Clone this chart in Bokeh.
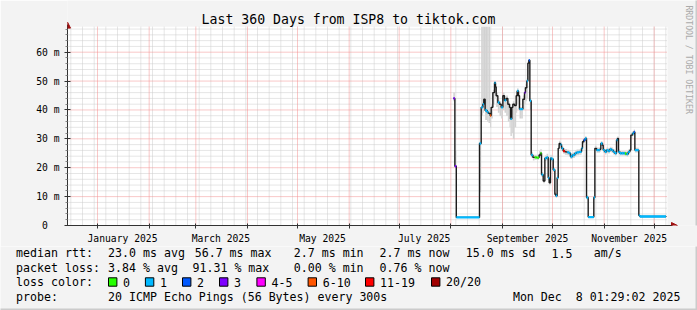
import math
import pandas as pd
from bokeh.plotting import figure
from bokeh.layouts import column
from bokeh.models import Range1d, FixedTicker, Label, Arrow, NormalHead
from bokeh.core.properties import value
from bokeh.embed import file_html
from bokeh.resources import INLINE

# ---------------- data ----------------
title_text = "Last 360 Days from ISP8 to tiktok.com"

sample_times = [
    "2025-08-02 12:00", "2025-08-03 10:00", "2025-08-04 07:00", "2025-08-18 05:00", "2025-08-19 05:00",
    "2025-08-20 05:00", "2025-08-20 19:00", "2025-08-21 14:00", "2025-08-22 19:00", "2025-08-23 14:00",
    "2025-08-24 14:00", "2025-08-25 05:00", "2025-08-26 05:00", "2025-08-27 05:00", "2025-08-27 19:00",
    "2025-08-28 05:00", "2025-08-29 05:00", "2025-08-30 05:00", "2025-08-31 05:00", "2025-09-01 05:00",
    "2025-09-02 05:00", "2025-09-03 05:00", "2025-09-04 05:00", "2025-09-05 05:00", "2025-09-05 19:00",
    "2025-09-06 14:00", "2025-09-07 05:00", "2025-09-08 05:00", "2025-09-09 05:00", "2025-09-09 19:00",
    "2025-09-10 14:00", "2025-09-11 05:00", "2025-09-12 05:00", "2025-09-13 05:00", "2025-09-14 05:00",
    "2025-09-14 19:00", "2025-09-15 14:00", "2025-09-16 05:00", "2025-09-16 19:00", "2025-09-17 10:00",
    "2025-09-18 05:00", "2025-09-19 05:00", "2025-09-20 05:00", "2025-09-21 12:00", "2025-09-22 23:00",
    "2025-09-23 19:00", "2025-09-24 10:00", "2025-09-25 10:00", "2025-09-26 10:00", "2025-09-27 10:00",
    "2025-09-28 10:00", "2025-09-29 00:00", "2025-09-29 19:00", "2025-09-30 10:00", "2025-10-01 10:00",
    "2025-10-02 10:00", "2025-10-03 00:00", "2025-10-03 19:00", "2025-10-04 10:00", "2025-10-05 00:00",
    "2025-10-05 19:00", "2025-10-06 10:00", "2025-10-07 10:00", "2025-10-08 10:00", "2025-10-09 19:00",
    "2025-10-11 00:00", "2025-10-11 19:00", "2025-10-13 00:00", "2025-10-14 10:00", "2025-10-15 10:00",
    "2025-10-17 00:00", "2025-10-18 10:00", "2025-10-19 00:00", "2025-10-19 19:00", "2025-10-20 14:00",
    "2025-10-21 10:00", "2025-10-22 10:00", "2025-10-25 19:00", "2025-10-26 10:00", "2025-10-27 10:00",
    "2025-10-28 10:00", "2025-10-29 10:00", "2025-10-30 00:00", "2025-10-31 00:00", "2025-10-31 10:00",
    "2025-11-01 10:00", "2025-11-02 10:00", "2025-11-03 10:00", "2025-11-04 10:00", "2025-11-05 10:00",
    "2025-11-06 10:00", "2025-11-07 10:00", "2025-11-08 10:00", "2025-11-09 00:00", "2025-11-09 14:00",
    "2025-11-10 10:00", "2025-11-11 10:00", "2025-11-12 10:00", "2025-11-13 10:00", "2025-11-14 10:00",
    "2025-11-15 10:00", "2025-11-16 10:00", "2025-11-17 00:00", "2025-11-18 00:00", "2025-11-18 19:00",
    "2025-11-19 10:00", "2025-11-21 10:00", "2025-11-21 19:00", "2025-11-22 10:00", "2025-12-08 01:29",
]

median_ms = [
    44.0, 20.5, 2.8, 28.4, 40.9, 42.0, 43.7, 39.8, 39.2, 38.8,
    38.1, 40.9, 46.0, 49.4, 48.0, 44.9, 42.6, 42.0, 40.9, 44.9,
    43.3, 44.0, 42.0, 40.9, 36.9, 40.9, 42.0, 41.5, 44.9, 46.6,
    44.9, 40.3, 40.3, 43.7, 46.0, 47.7, 50.0, 56.2, 57.2, 43.2,
    24.4, 23.6, 23.6, 23.5, 24.4, 25.0, 17.6, 15.4, 23.3, 23.6,
    16.5, 14.8, 23.3, 23.0, 19.3, 10.8, 10.3, 16.5, 26.7, 28.4,
    28.0, 26.7, 25.8, 25.5, 25.3, 25.0, 23.9, 24.4, 25.0, 25.3,
    25.5, 26.7, 29.0, 29.6, 30.1, 9.7, 2.9, 9.7, 26.7, 26.1,
    26.1, 26.4, 28.4, 27.8, 26.1, 25.5, 26.1, 25.8, 26.4, 26.1,
    25.5, 25.0, 29.6, 30.1, 25.5, 25.0, 25.0, 25.0, 24.9, 24.7,
    25.5, 26.1, 31.3, 31.9, 32.4, 26.1, 26.1, 3.5, 3.1, 2.9,
]

# index into loss_labels (-1: no loss colour visible on the sample)
loss_bucket = [
    3, 3, 1, 1, 1, 1, -1, 1, 1, -1,
    5, -1, -1, 1, -1, -1, 1, -1, 1, -1,
    1, -1, -1, -1, 1, -1, -1, -1, -1, 1,
    -1, 1, 1, -1, 3, -1, 1, -1, 2, 1,
    1, -1, 0, 0, -1, 0, 1, -1, 1, 1,
    1, -1, 1, 1, 1, -1, 1, 1, -1, -1,
    1, 1, 6, -1, 1, 1, 1, 1, 1, 1,
    1, 1, -1, 2, 1, 1, 1, 1, -1, 1,
    1, -1, 1, -1, 1, 1, 1, 1, 1, 1,
    1, 1, 1, -1, 1, 1, 1, 1, 0, 1,
    1, -1, -1, 1, 2, 1, 1, 1, 1, 1,
]

smoke_lo = [
    43.0, 20.0, 2.6, 11.5, 38.0, 39.0, 40.0, 36.5, 36.0, 35.5,
    34.0, 37.0, 42.0, 45.0, 44.0, 41.0, 39.0, 38.0, 37.0, 40.0,
    39.0, 38.0, 36.0, 34.0, 31.0, 32.0, 30.0, 34.0, 39.0, 42.0,
    40.0, 37.0, 37.0, 40.0, 42.0, 43.0, 44.0, 50.0, 52.0, 40.0,
    23.5, 22.5, 22.8, 22.8, 23.5, 24.0, 16.8, 14.6, 22.3, 22.6,
    15.7, 14.0, 22.4, 22.0, 18.5, 10.0, 9.6, 15.7, 25.8, 27.4,
    27.0, 25.8, 24.8, 24.5, 24.3, 24.0, 23.0, 23.4, 24.0, 24.3,
    24.5, 25.7, 28.0, 28.6, 29.2, 9.0, 2.6, 9.0, 25.8, 25.2,
    25.2, 25.5, 27.5, 26.9, 25.2, 24.6, 25.2, 24.9, 25.5, 25.2,
    24.6, 24.2, 28.7, 29.2, 24.6, 24.2, 24.2, 24.2, 24.1, 23.9,
    24.7, 25.3, 30.4, 31.0, 31.5, 25.3, 25.3, 3.2, 2.9, 2.7,
]

smoke_hi = [
    46.0, 26.0, 3.0, 29.0, 68.8, 68.8, 68.8, 68.8, 68.8, 68.8,
    39.5, 42.0, 47.0, 50.0, 49.0, 46.0, 43.5, 43.0, 42.0, 46.0,
    44.0, 45.0, 43.0, 42.0, 38.0, 42.0, 43.0, 42.5, 46.0, 47.5,
    46.0, 41.0, 41.0, 45.0, 48.0, 49.0, 51.0, 57.0, 57.5, 44.0,
    25.5, 24.5, 24.5, 24.5, 25.8, 26.5, 18.5, 16.2, 24.2, 24.8,
    17.3, 15.6, 24.5, 24.2, 20.1, 11.6, 11.0, 17.3, 27.8, 29.3,
    28.9, 27.6, 26.8, 26.5, 26.2, 26.0, 24.9, 25.3, 26.0, 26.3,
    26.4, 27.7, 29.8, 30.4, 30.9, 10.4, 3.1, 10.4, 27.6, 27.0,
    27.0, 27.3, 29.2, 28.7, 27.0, 26.4, 27.0, 26.7, 27.3, 27.0,
    26.4, 25.9, 30.5, 30.9, 26.4, 25.8, 25.8, 25.8, 25.7, 25.5,
    26.3, 26.9, 32.1, 32.7, 33.2, 26.9, 26.9, 3.8, 3.3, 3.1,
]

loss_labels = ["0", "1", "2", "3", "4-5", "6-10", "11-19", "20/20"]
loss_colors = ["#26ff00", "#00b8ff", "#0059ff", "#7e00ff", "#ff00ff", "#ff5500", "#ff0000", "#a10000"]

month_label_dates = ["2025-01-16", "2025-03-16", "2025-05-16", "2025-07-16", "2025-09-16", "2025-11-16"]
month_label_texts = ["January 2025", "March 2025", "May 2025", "July 2025", "September 2025", "November 2025"]

y_tick_values = [0, 10, 20, 30, 40, 50, 60]
y_tick_labels = ["0\u00a0\u00a0", "10 m", "20 m", "30 m", "40 m", "50 m", "60 m"]

range_start = "2024-12-14 00:00"
range_end = "2025-12-09 00:00"
y_top = 68.8

row_titles = ["median rtt:", "packet loss:", "loss color:", "probe:"]
rtt_stats = ["23.0 ms avg", "56.7 ms max", "2.7 ms min", "2.7 ms now", "15.0 ms sd", "1.5", "am/s"]
loss_stats = ["3.84 % avg", "91.31 % max", "0.00 % min", "0.76 % now"]
probe_text = "20 ICMP Echo Pings (56 Bytes) every 300s"
stamp_day = "Mon Dec"
stamp_rest = "8 01:29:02 2025"

# ---------------- helpers ----------------
def ms(s):
    return int(pd.Timestamp(s).value // 10**6)

W = 697
MAIN_H = 246
LEG_H = 310 - MAIN_H
LEFT, BOTTOM = 67, 229
PX_PER_DAY = 600 / 360
PX_PER_MS = 2.94
MSPX = 86400000 / PX_PER_DAY
X0 = ms(range_start)
X1 = ms(range_end)

def xd(px):
    return X0 + (px - LEFT) * MSPX

def yd(py):
    return (BOTTOM - py) / PX_PER_MS

BG = "#f3f3f3"
SHADE = "#cbcbcb"
FONT = "DejaVu Sans Mono"
AXIS = "#333333"
ARROW = "#a01010"

t = [ms(s) for s in sample_times]
n = len(t)

# ---------------- main figure ----------------
p = figure(width=W, height=MAIN_H, x_range=Range1d(X0, xd(W)), y_range=Range1d(0, yd(0)),
           output_backend="svg", toolbar_location=None,
           min_border_left=LEFT, min_border_right=0, min_border_top=0, min_border_bottom=MAIN_H - BOTTOM,
           background_fill_color=BG, border_fill_color=BG, outline_line_color=None)
p.grid.visible = False

# plot canvas
p.quad(left=[X0], right=[X1], bottom=[0], top=[y_top], fill_color="white", line_color=None)

# grid
weeks = [int(v.value // 10**6) for v in pd.date_range("2024-12-16", "2025-12-08", freq="7D")]
months = [int(v.value // 10**6) for v in pd.date_range("2025-01-01", "2025-12-01", freq="MS")]
minor_y = [v for v in range(2, 69, 2) if v % 10]
major_y = [v for v in y_tick_values if v > 0]

p.segment(x0=weeks, y0=[0] * len(weeks), x1=weeks, y1=[y_top] * len(weeks),
          line_color="#cccccc", line_dash="1 1", line_width=1)
p.segment(x0=[X0] * len(minor_y), y0=minor_y, x1=[X1] * len(minor_y), y1=minor_y,
          line_color="#cccccc", line_dash="1 1", line_width=1)
p.segment(x0=months, y0=[0] * len(months), x1=months, y1=[y_top] * len(months),
          line_color="#f29090", line_dash="1 1", line_width=1)
p.segment(x0=[X0] * len(major_y), y0=major_y, x1=[X1] * len(major_y), y1=major_y,
          line_color="#f29090", line_dash="1 1", line_width=1)

# smoke
p.quad(left=t[:-1], right=t[1:], bottom=smoke_lo[:-1], top=smoke_hi[:-1],
       fill_color="#d2d2d2", line_color=None)

# median line
p.step(x=t, y=median_ms, mode="after", line_color="#1c1c1c", line_width=1.4)

# loss coloured median segments
sx0, sx1, sy, sc = [], [], [], []
for i in range(n - 1):
    b = loss_bucket[i]
    if b >= 0:
        sx0.append(t[i]); sx1.append(t[i + 1]); sy.append(median_ms[i]); sc.append(loss_colors[b])
p.segment(x0=sx0, y0=sy, x1=sx1, y1=sy, line_color=sc, line_width=2.4)

# axes
label_ticks = [ms(d) for d in month_label_dates]
xa = p.xaxis[0]
xa.ticker = FixedTicker(ticks=label_ticks, minor_ticks=months)
ov = {}
for k, txt in zip(label_ticks, month_label_texts):
    ov[k] = txt
    ov[str(k)] = txt
xa.major_label_overrides = ov
xa.bounds = (X0, xd(672))
xa.axis_line_color = AXIS
xa.major_tick_line_color = None
xa.major_tick_in = 0
xa.major_tick_out = 0
xa.minor_tick_line_color = AXIS
xa.minor_tick_in = 2
xa.minor_tick_out = 3
xa.major_label_standoff = 4
xa.major_label_text_font = FONT
xa.major_label_text_font_size = "9.7px"
xa.major_label_text_color = "#000000"

ya = p.yaxis[0]
ya.ticker = FixedTicker(ticks=y_tick_values, minor_ticks=minor_y)
yov = {}
for k, txt in zip(y_tick_values, y_tick_labels):
    yov[k] = txt
    yov[str(k)] = txt
ya.major_label_overrides = yov
ya.bounds = (0, yd(24))
ya.axis_line_color = AXIS
ya.major_tick_line_color = AXIS
ya.major_tick_in = 3
ya.major_tick_out = 3
ya.minor_tick_line_color = "#888888"
ya.minor_tick_in = 0
ya.minor_tick_out = 2
ya.major_label_standoff = 5
ya.major_label_text_font = FONT
ya.major_label_text_font_size = "9.7px"
ya.major_label_text_color = "#000000"

# axis arrows
p.add_layout(Arrow(end=NormalHead(size=6, fill_color=ARROW, line_color=ARROW),
                   x_start=X0, y_start=yd(30), x_end=X0, y_end=yd(22), line_color=None))
p.add_layout(Arrow(end=NormalHead(size=6, fill_color=ARROW, line_color=ARROW),
                   x_start=xd(668), y_start=0, x_end=xd(677), y_end=0, line_color=None))

def label(fig, x, y, text, size="11.6px", align="left", color="#000000", angle=0.0):
    fig.add_layout(Label(x=x, y=y, text=text, text_align=align, text_baseline="middle",
                         text_font=FONT, text_font_size=size, text_color=color, angle=angle))

label(p, xd(348), yd(19), title_text, size="13.2px", align="center")
label(p, xd(688.5), yd(5), "RRDTOOL / TOBI OETIKER", size="8.2px", color="#aaaaaa", angle=-math.pi / 2)
label(p, xd(11), yd(127.5), "Seconds", align="center", angle=math.pi / 2)

# right shade strip
p.quad(left=[xd(695)], right=[xd(698)], bottom=[yd(MAIN_H + 2)], top=[yd(-2)],
       fill_color=SHADE, line_color=None)

# ---------------- legend figure (coordinates are canvas pixels) ----------------
lg = figure(width=W, height=LEG_H, x_range=Range1d(0, W), y_range=Range1d(310, MAIN_H),
            output_backend="svg", toolbar_location=None,
            min_border_left=0, min_border_right=0, min_border_top=0, min_border_bottom=0,
            x_axis_location=None, y_axis_location=None,
            background_fill_color=BG, border_fill_color=BG, outline_line_color=None)
lg.grid.visible = False
try:
    p.frame_align = False
    lg.frame_align = False
except Exception:
    # no frame alignment opt-out: match the main frame instead
    lg.min_border_left = LEFT
    lg.x_range = Range1d(LEFT, W)

row_y = [252.5, 267.0, 281.5, 296.0]
rtt_x = [107.6, 194.2, 293.3, 379.1, 465.3, 551.1, 593.3]
loss_x = [107.6, 192.0, 293.3, 379.1]
box_x = [108.0, 144.9, 182.0, 219.0, 256.4, 307.6, 365.0, 431.0]

tx, ty, tt = [], [], []
for ry, s in zip(row_y, row_titles):
    tx.append(15.6); ty.append(ry); tt.append(s)
for x, s in zip(rtt_x, rtt_stats):
    tx.append(x); ty.append(row_y[0]); tt.append(s)
for x, s in zip(loss_x, loss_stats):
    tx.append(x); ty.append(row_y[1]); tt.append(s)
for bx, s in zip(box_x, loss_labels):
    tx.append(bx + 14.6); ty.append(row_y[2]); tt.append(s)
tx += [107.6, 512.4, 575.2]
ty += [row_y[3]] * 3
tt += [probe_text, stamp_day, stamp_rest]

lg.text(x=tx, y=ty, text=tt, text_font=value(FONT), text_font_size=value("11.6px"),
        text_baseline="middle", text_align="left", text_color="#000000")

lg.quad(left=box_x, right=[b + 8.4 for b in box_x], top=[row_y[2] - 4.2] * len(box_x),
        bottom=[row_y[2] + 4.2] * len(box_x), fill_color=loss_colors, line_color="#000000", line_width=1)

lg.quad(left=[-1], right=[W + 1], top=[308], bottom=[311], fill_color=SHADE, line_color=None)
lg.quad(left=[695], right=[W + 1], top=[MAIN_H - 1], bottom=[311], fill_color=SHADE, line_color=None)

layout = column(p, lg, spacing=0)
open("out.html", "w").write(file_html(layout, INLINE))
